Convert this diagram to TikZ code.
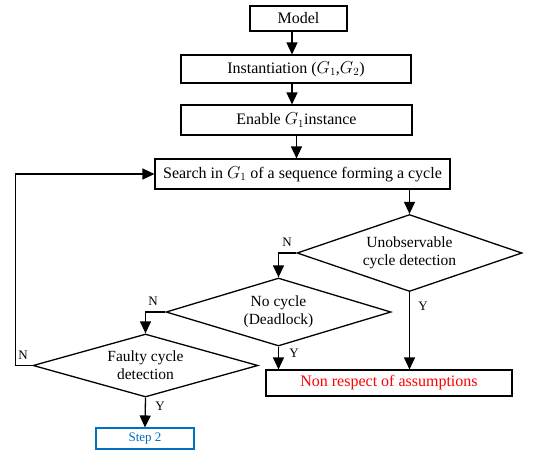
\documentclass[tikz,border=0pt]{standalone}
\usepackage{fontspec}
\setmainfont{Liberation Serif}
\usepackage{tikz}
\usetikzlibrary{arrows.meta,shapes.geometric,positioning,calc}
\definecolor{fcred}{RGB}{255,0,0}
\definecolor{fcblue}{RGB}{0,112,192}

\tikzset{
  stepbox/.style={draw, line width=1.1pt, inner sep=0pt, font=\fontsize{16}{19}\selectfont},
  decision/.style={diamond, draw, line width=1.3pt, inner sep=0pt, align=center,
    minimum width=225pt, font=\fontsize{15.5}{18}\selectfont},
  arr/.style={line width=1.3pt, -{Triangle[length=12pt,width=11pt]}},
  flag/.style={font=\fontsize{13}{15}\selectfont}
}

\begin{document}
\begin{tikzpicture}[x=1pt,y=-1pt]
    \useasboundingbox (0,0) rectangle (558,451);

    % Boxes
    \node[stepbox, minimum width=97pt, minimum height=25pt] (model) at (298.5,18.5) {Model};
    \node[stepbox, minimum width=230pt, minimum height=28pt] (inst) at (296,69) {Instantiation ($G_1$,$G_2$)};
    \node[stepbox, minimum width=231pt, minimum height=30pt] (enable) at (296.5,120) {Enable $G_1$instance};
    \node[stepbox, minimum width=295pt, minimum height=30pt] (search) at (302.5,174) {Search in $G_1$ of a sequence forming a cycle};

    % Decisions
    \node[decision, aspect=2.92, minimum height=77pt] (unobs) at (409.5,253) {Unobservable\\cycle detection};
    \node[decision, aspect=3.31, minimum height=68pt] (nocycle) at (278.5,312) {No cycle\\(Deadlock)};
    \node[decision, aspect=3.57, minimum height=63pt] (faulty) at (145.5,365.5) {Faulty cycle\\detection};

    % Outcomes
    \node[stepbox, minimum width=246pt, minimum height=26pt, text=fcred] (nonresp) at (389,383) {Non respect of assumptions};
    \node[stepbox, draw=fcblue, text=fcblue, minimum width=98pt, minimum height=21pt,
      font=\fontsize{13}{15}\selectfont] (step2) at (145,438.5) {Step 2};

    % Main flow
    \coordinate (m1) at (292,31);
    \coordinate (i1) at (292,83);
    \draw[arr] (m1) -- (m1 |- inst.north);
    \draw[arr] (i1) -- (i1 |- enable.north);
    \draw[arr] (enable.south) -- (enable.south |- search.north);
    \draw[arr] (unobs.north |- search.south) -- (unobs.north);

    % Branches
    \draw[arr] (unobs.west) -| (nocycle.north);
    \draw[arr] (unobs.south) -- (unobs.south |- nonresp.north);
    \draw[arr] (nocycle.west) -| (faulty.north);
    \draw[arr] (nocycle.south) -- (nocycle.south |- nonresp.north);
    \draw[arr] (faulty.south) -- (step2.north);
    \draw[arr] (faulty.west) -- ++(-17,0) |- (search.west);

    % Labels
    \node[flag] at (287,242) {N};
    \node[flag] at (423,306) {Y};
    \node[flag] at (153,301) {N};
    \node[flag] at (294,353) {Y};
    \node[flag] at (23,355) {N};
    \node[flag] at (160,406) {Y};
\end{tikzpicture}
\end{document}
